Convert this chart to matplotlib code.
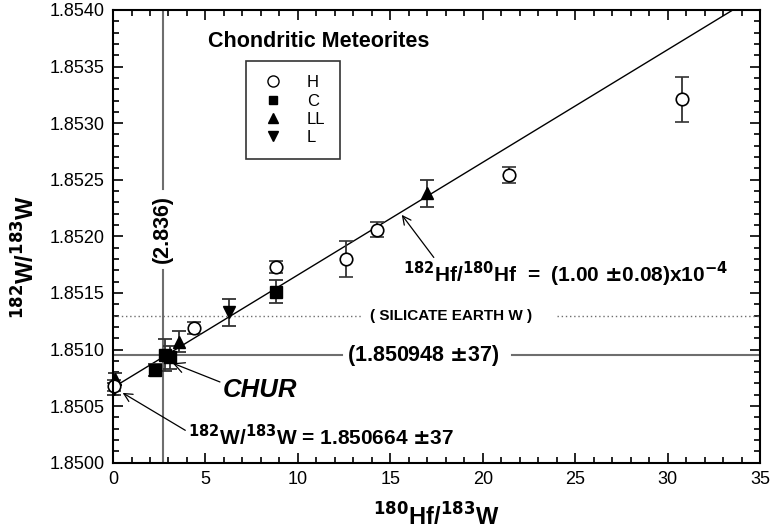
import matplotlib
matplotlib.use("Agg")
import numpy as np
import matplotlib.pyplot as plt
from matplotlib.lines import Line2D
from matplotlib.ticker import MultipleLocator

plt.rcParams["font.family"] = ["Liberation Sans", "DejaVu Sans"]

# data
h_x = [0.05, 4.4, 8.8, 12.6, 14.3, 21.4, 30.8]
h_y = [1.85068, 1.85119, 1.85173, 1.85180, 1.85206, 1.85254, 1.85321]
h_err = [0.00005, 0.00005, 0.00005, 0.00016, 0.00007, 0.00007, 0.00020]

c_x = [2.25, 2.8, 3.1, 8.8]
c_y = [1.85082, 1.85095, 1.85093, 1.85151]
c_err = [0.00005, 0.00014, 0.00010, 0.00010]

ll_x = [0.1, 3.55, 17.0]
ll_y = [1.85074, 1.85107, 1.85238]
ll_err = [0.00005, 0.00009, 0.00012]

l_x = [0.05, 6.3]
l_y = [1.85065, 1.85133]
l_err = [0.00005, 0.00012]

intercept = 1.850664
slope = 0.0000995
chur_y = 1.850948
chur_x = 2.69
silicate_y = 1.8513

fig = plt.figure(figsize=(7.72, 5.31), dpi=100)
ax = fig.add_axes([0.1464, 0.1286, 0.8381, 0.8526])

ax.set_xlim(0, 35)
ax.set_ylim(1.85, 1.854)

grey = "#6e6e6e"
# reference lines, broken where the labels sit
ax.plot([chur_x, chur_x], [1.85242, 1.854], color=grey, lw=1.5)
ax.plot([chur_x, chur_x], [1.85, 1.85170], color=grey, lw=1.5)
ax.plot([0, 12.4], [chur_y, chur_y], color=grey, lw=1.5)
ax.plot([21.6, 35], [chur_y, chur_y], color=grey, lw=1.5)
ax.plot([0, 13.5], [silicate_y, silicate_y], color=grey, lw=1, ls=(0, (1, 2)))
ax.plot([24.0, 35], [silicate_y, silicate_y], color=grey, lw=1, ls=(0, (1, 2)))

xs = np.array([0, 35])
ax.plot(xs, intercept + slope * xs, color="black", lw=1)

eb = dict(ecolor="#333333", elinewidth=1.3, capsize=5, capthick=1.3, ls="none")
conts = [
    ax.errorbar(c_x, c_y, yerr=c_err, fmt="s", mfc="black", mec="black", ms=8, **eb),
    ax.errorbar(ll_x, ll_y, yerr=ll_err, fmt="^", mfc="black", mec="black", ms=8, **eb),
    ax.errorbar(l_x, l_y, yerr=l_err, fmt="v", mfc="black", mec="black", ms=8, **eb),
    ax.errorbar(h_x, h_y, yerr=h_err, fmt="o", mfc="white", mec="black", mew=1.2, ms=9, **eb),
]
for c in conts:
    for art in c.get_children():
        art.set_clip_on(False)

ax.xaxis.set_major_locator(MultipleLocator(5))
ax.xaxis.set_minor_locator(MultipleLocator(1))
ax.yaxis.set_major_locator(MultipleLocator(0.0005))
ax.yaxis.set_minor_locator(MultipleLocator(0.0001))
ax.yaxis.set_major_formatter(plt.FormatStrFormatter("%.4f"))
ax.tick_params(which="both", direction="in", top=True, right=True, labelsize=13, width=1.2)
ax.tick_params(which="major", length=7, pad=6)
ax.tick_params(which="minor", length=4)
for s in ax.spines.values():
    s.set_linewidth(1.5)

ax.set_xlabel(r"$\mathbf{^{180}}$Hf/$\mathbf{^{183}}$W", fontsize=17, fontweight="bold")
ax.xaxis.set_label_coords(0.5, -0.12)
ax.xaxis.label.set_va("center")
ax.set_ylabel(r"$\mathbf{^{182}}$W/$\mathbf{^{183}}$W", fontsize=17, fontweight="bold")
ax.yaxis.set_label_coords(-0.134, 0.455)
ax.yaxis.label.set_va("center")

ax.text(11.1, 1.85372, "Chondritic Meteorites", fontsize=15.5, fontweight="bold", ha="center", va="center")

handles = [
    Line2D([], [], marker="o", ls="none", mfc="white", mec="black", ms=8),
    Line2D([], [], marker="s", ls="none", mfc="black", mec="black", ms=6),
    Line2D([], [], marker="^", ls="none", mfc="black", mec="black", ms=7),
    Line2D([], [], marker="v", ls="none", mfc="black", mec="black", ms=7),
]
leg = ax.legend(handles, ["H", "C", "LL", "L"], loc="upper left", bbox_to_anchor=(0.2056, 0.8873),
                fontsize=12, frameon=True, fancybox=False, edgecolor="black", handlelength=1.5,
                handletextpad=1.3, borderpad=0.85, labelspacing=0.2, borderaxespad=0)
leg.get_frame().set_linewidth(1.2)

arrow = dict(arrowstyle="->", color="black", lw=0.9, shrinkA=0, shrinkB=0)
ax.annotate(r"$\mathbf{^{182}}$Hf/$\mathbf{^{180}}$Hf  =  (1.00 $\mathbf{\pm}$0.08)x10$\mathbf{^{-4}}$",
            xy=(15.62, 1.85219), xytext=(24.5, 1.85166), fontsize=15, fontweight="bold",
            ha="center", va="center", arrowprops=dict(arrow, relpos=(0.1, 1.0)))
ax.text(chur_x, 1.852069, "(2.836)", rotation=90, fontsize=15.5, fontweight="bold", ha="center", va="center")
ax.text(16.8, chur_y, r"(1.850948 $\mathbf{\pm}$37)", fontsize=15.5, fontweight="bold", ha="center", va="center")
ax.text(18.28, silicate_y, "( SILICATE EARTH W )", fontsize=11, fontweight="bold", ha="center", va="center")
ax.annotate("CHUR", xy=(3.23, 1.850879), xytext=(7.95, 1.85064), fontsize=18.5, fontweight="bold",
            fontstyle="italic", ha="center", va="center", arrowprops=dict(arrow, relpos=(0.0, 0.8)))
ax.annotate(r"$\mathbf{^{182}}$W/$\mathbf{^{183}}$W = 1.850664 $\mathbf{\pm}$37", xy=(0.52, 1.850617),
            xytext=(11.26, 1.850227), fontsize=15, fontweight="bold", ha="center", va="center",
            arrowprops=dict(arrow, relpos=(0.0, 0.7)))

fig.savefig("out.png", dpi=100)
